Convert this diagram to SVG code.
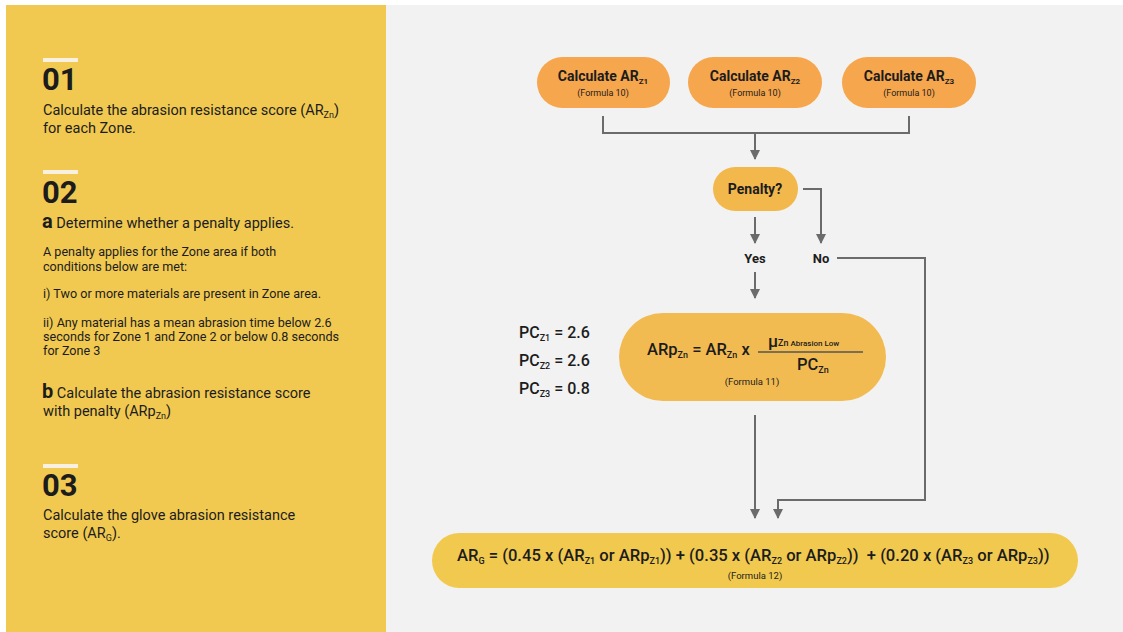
<svg xmlns="http://www.w3.org/2000/svg" width="1123" height="632" viewBox="0 0 1123 632">
<defs>
<marker id="arr" viewBox="0 0 10 10" refX="9" refY="5" markerWidth="10" markerHeight="10" markerUnits="userSpaceOnUse" orient="auto">
<path d="M0,0 L10,5 L0,10 z" fill="#6b6b6b"/>
</marker>
</defs>
<style>
text{font-family:Roboto,"Liberation Sans",Arial,sans-serif;fill:#1c1c1c}
.num{font-size:31px;font-weight:700}
.body{font-size:14.5px}
.small{font-size:12.6px}
.lt{font-size:20px;font-weight:700}
.bar{fill:#f8f1e2}
.nodeT{font-size:14px;font-weight:700}
.fm{font-size:9px}
.eq{font-size:16px;font-weight:500}
.sub{font-size:9px}
.yn{font-size:13px;font-weight:700}
.conn{fill:none;stroke:#6b6b6b;stroke-width:2}
</style>
<rect x="0" y="0" width="1123" height="632" fill="#ffffff"/>
<rect x="6" y="5" width="380" height="627" fill="#f1c951"/>
<rect x="386" y="5" width="737" height="627" fill="#f2f2f2"/>

<g id="step01">
<rect class="bar" x="43" y="58" width="35" height="4"/>
<text class="num" x="42" y="90">01</text>
<text class="body" x="43" y="115">Calculate the abrasion resistance score (AR<tspan class="sub" dy="3">Zn</tspan><tspan dy="-3">)</tspan></text>
<text class="body" x="43" y="133">for each Zone.</text>
</g>

<g id="step02">
<rect class="bar" x="43" y="170" width="35" height="4"/>
<text class="num" x="42" y="203">02</text>
<text class="body" x="42" y="228"><tspan class="lt">a</tspan> Determine whether a penalty applies.</text>
<text class="small" x="43" y="256">A penalty applies for the Zone area if both</text>
<text class="small" x="43" y="271">conditions below are met:</text>
<text class="small" x="43" y="298">i) Two or more materials are present in Zone area.</text>
<text class="small" x="43" y="327">ii) Any material has a mean abrasion time below 2.6</text>
<text class="small" x="43" y="341">seconds for Zone 1 and Zone 2 or below 0.8 seconds</text>
<text class="small" x="43" y="355">for Zone 3</text>
<text class="body" x="42" y="398"><tspan class="lt">b</tspan> Calculate the abrasion resistance score</text>
<text class="body" x="43" y="416">with penalty (ARp<tspan class="sub" dy="3">Zn</tspan><tspan dy="-3">)</tspan></text>
</g>

<g id="step03">
<rect class="bar" x="43" y="464" width="35" height="4"/>
<text class="num" x="42" y="496">03</text>
<text class="body" x="43" y="520">Calculate the glove abrasion resistance</text>
<text class="body" x="43" y="538">score (AR<tspan class="sub" dy="3">G</tspan><tspan dy="-3">).</tspan></text>
</g>

<g id="connectors">
<path class="conn" d="M603,116 V133 H909 V116"/>
<path class="conn" d="M755,133 V159" marker-end="url(#arr)"/>
<path class="conn" d="M755,217 V243" marker-end="url(#arr)"/>
<path class="conn" d="M803,189 H821 V243" marker-end="url(#arr)"/>
<path class="conn" d="M755,272 V298" marker-end="url(#arr)"/>
<path class="conn" d="M837,258 H925 V500 H778 V518" marker-end="url(#arr)"/>
<path class="conn" d="M755,415 V518" marker-end="url(#arr)"/>
</g>

<g id="nodeZ1">
<rect x="537" y="57" width="133" height="51" rx="25.5" fill="#f6a64c"/>
<text class="nodeT" x="603" y="81" text-anchor="middle">Calculate AR<tspan class="sub" style="font-size:8px" dy="3">Z1</tspan></text>
<text class="fm" x="603" y="96" text-anchor="middle">(Formula 10)</text>
</g>
<g id="nodeZ2">
<rect x="688" y="57" width="134" height="51" rx="25.5" fill="#f6a64c"/>
<text class="nodeT" x="755" y="81" text-anchor="middle">Calculate AR<tspan class="sub" style="font-size:8px" dy="3">Z2</tspan></text>
<text class="fm" x="755" y="96" text-anchor="middle">(Formula 10)</text>
</g>
<g id="nodeZ3">
<rect x="842" y="57" width="134" height="51" rx="25.5" fill="#f6a64c"/>
<text class="nodeT" x="909" y="81" text-anchor="middle">Calculate AR<tspan class="sub" style="font-size:8px" dy="3">Z3</tspan></text>
<text class="fm" x="909" y="96" text-anchor="middle">(Formula 10)</text>
</g>

<g id="penalty">
<rect x="713" y="167" width="85" height="44" rx="22" fill="#f2b84c"/>
<text class="nodeT" x="755" y="194" text-anchor="middle">Penalty?</text>
</g>

<g id="yes"><text class="yn" x="755" y="263" text-anchor="middle">Yes</text></g>
<g id="no"><text class="yn" x="821" y="263" text-anchor="middle">No</text></g>

<g id="pcValues">
<text class="eq" x="519" y="338">PC<tspan class="sub" dy="3">Z1</tspan><tspan dy="-3"> = 2.6</tspan></text>
<text class="eq" x="519" y="366">PC<tspan class="sub" dy="3">Z2</tspan><tspan dy="-3"> = 2.6</tspan></text>
<text class="eq" x="519" y="394">PC<tspan class="sub" dy="3">Z3</tspan><tspan dy="-3"> = 0.8</tspan></text>
</g>

<g id="formula11">
<rect x="619" y="313" width="267" height="88" rx="44" fill="#f2bb52"/>
<text class="eq" x="647" y="355" style="font-size:16.5px">ARp<tspan class="sub" dy="3">Zn</tspan><tspan dy="-3"> = AR</tspan><tspan class="sub" dy="3">Zn</tspan><tspan dy="-3"> x</tspan></text>
<text class="eq" x="768" y="347" style="font-size:17px">μ<tspan class="sub" dy="-1" style="font-size:9px">Zn</tspan><tspan style="font-size:8px"> Abrasion Low</tspan></text>
<line x1="758" y1="352" x2="863" y2="352" stroke="#555" stroke-width="1.5"/>
<text class="eq" x="797" y="370" style="font-size:16.5px">PC<tspan class="sub" dy="3">Zn</tspan></text>
<text class="fm" x="752" y="385" text-anchor="middle" style="font-size:9.5px">(Formula 11)</text>
</g>

<g id="formula12">
<rect x="432" y="533" width="646" height="55" rx="27.5" fill="#f1c94f"/>
<text class="eq" x="457" y="561" style="font-size:16.6px">AR<tspan class="sub" dy="3">G</tspan><tspan dy="-3"> = (0.45 x (AR</tspan><tspan class="sub" dy="3">Z1</tspan><tspan dy="-3"> or ARp</tspan><tspan class="sub" dy="3">Z1</tspan><tspan dy="-3">)) + (0.35 x (AR</tspan><tspan class="sub" dy="3">Z2</tspan><tspan dy="-3"> or ARp</tspan><tspan class="sub" dy="3">Z2</tspan><tspan dy="-3">))&#160; + (0.20 x (AR</tspan><tspan class="sub" dy="3">Z3</tspan><tspan dy="-3"> or ARp</tspan><tspan class="sub" dy="3">Z3</tspan><tspan dy="-3">))</tspan></text>
<text class="fm" x="755" y="579" text-anchor="middle" style="font-size:9.5px">(Formula 12)</text>
</g>
</svg>
